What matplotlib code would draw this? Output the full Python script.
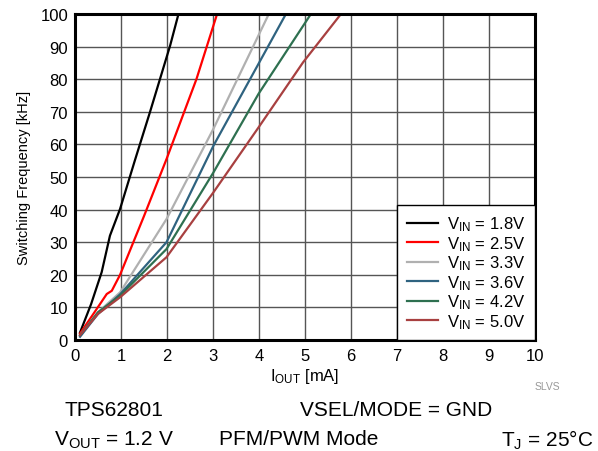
import matplotlib
matplotlib.use("Agg")
from matplotlib import pyplot as plt

plt.rcParams['font.family'] = ['Liberation Sans', 'DejaVu Sans']
plt.rcParams['mathtext.fontset'] = 'custom'
plt.rcParams['mathtext.rm'] = 'Liberation Sans'
plt.rcParams['mathtext.it'] = 'Liberation Sans'

# I_OUT [mA] vs switching frequency [kHz]
x_18 = [0.11, 0.35, 0.58, 0.76, 0.98, 1.30, 1.63, 2.07, 2.25]
y_18 = [2.3, 11.0, 20.8, 32.0, 40.2, 55.0, 69.9, 90.4, 100]

x_25 = [0.11, 0.40, 0.69, 0.80, 0.98, 1.50, 1.99, 2.64, 3.08]
y_25 = [2.0, 8.0, 14.1, 15.1, 20.0, 38.0, 55.5, 80.0, 99.6]

x_33 = [0.11, 0.50, 0.98, 1.99, 3.01, 4.20]
y_33 = [1.5, 8.5, 14.6, 37.1, 64.8, 99.6]

x_36 = [0.11, 0.50, 0.98, 1.99, 3.01, 4.57]
y_36 = [1.0, 8.0, 14.0, 30.0, 59.6, 99.6]

x_42 = [0.11, 0.50, 0.98, 1.99, 3.01, 3.99, 5.11]
y_42 = [1.5, 8.5, 13.6, 27.9, 51.4, 75.5, 99.6]

x_50 = [0.11, 0.50, 0.98, 1.99, 3.01, 3.99, 4.96, 5.76]
y_50 = [1.5, 8.0, 13.1, 25.4, 45.3, 65.2, 85.2, 99.6]

series = [
    (x_18, y_18, 'black', '1.8V'),
    (x_25, y_25, '#ff0000', '2.5V'),
    (x_33, y_33, '#b0b0b0', '3.3V'),
    (x_36, y_36, '#2f6380', '3.6V'),
    (x_42, y_42, '#2e7050', '4.2V'),
    (x_50, y_50, '#a84040', '5.0V'),
]

fig = plt.figure(figsize=(5.98, 4.52), dpi=100)
ax = fig.add_axes([0.1254, 0.2456, 0.7692, 0.7212])

for xs, ys, c, v in series:
    ax.plot(xs, ys, color=c, lw=1.6, label=r'V$_{\mathrm{IN}}$ = ' + v)

ax.set_xlim(0, 10)
ax.set_ylim(0, 100)
ax.set_xticks(range(0, 11))
ax.set_yticks(range(0, 101, 10))
ax.grid(True, color='#555555', lw=1.0)
ax.tick_params(length=0, labelsize=12)
ax.tick_params(axis='y', pad=5)
ax.tick_params(axis='x', pad=6)
for s in ax.spines.values():
    s.set_linewidth(2.2)

ax.set_xlabel(r'I$_{\mathrm{OUT}}$ [mA]', fontsize=12, labelpad=2)
ax.set_ylabel('Switching Frequency [kHz]', fontsize=10.5, labelpad=7)

leg = ax.legend(loc='lower right', fontsize=12, frameon=True, fancybox=False,
                edgecolor='black', framealpha=1, borderaxespad=0,
                handlelength=1.9, handletextpad=0.55, labelspacing=0.05,
                borderpad=0.55)
leg.get_frame().set_linewidth(1.0)

fig.text(547 / 598, 1 - 387 / 452, 'SLVS', fontsize=7.5, color='#999999', ha='center', va='center')
fig.text(114 / 598, 1 - 411 / 452, 'TPS62801', fontsize=15, ha='center', va='center')
fig.text(396 / 598, 1 - 411 / 452, 'VSEL/MODE = GND', fontsize=15, ha='center', va='center')
fig.text(114 / 598, 1 - 440 / 452, r'V$_{\mathrm{OUT}}$ = 1.2 V', fontsize=15, ha='center', va='center')
fig.text(299 / 598, 1 - 440 / 452, 'PFM/PWM Mode', fontsize=15, ha='center', va='center')
fig.text(547 / 598, 1 - 440 / 452, r'T$_{\mathrm{J}}$ = 25°C', fontsize=15, ha='center', va='center')

fig.savefig('out.png', dpi=100)
